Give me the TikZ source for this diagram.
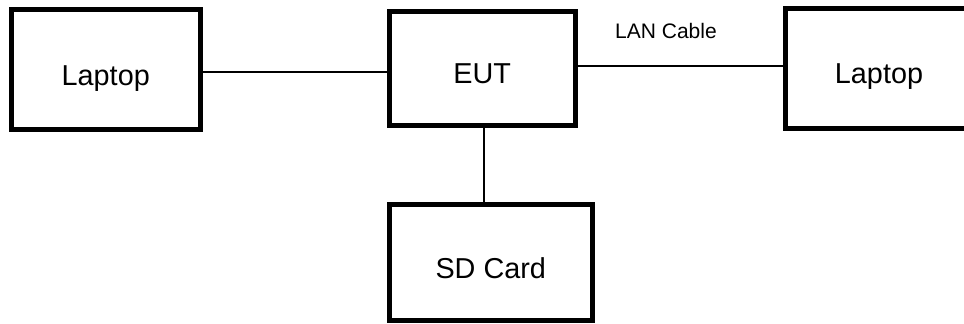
\documentclass[tikz,border=0pt]{standalone}
\usepackage{fontspec}
\setmainfont{Liberation Sans}
\begin{document}
\begin{tikzpicture}[x=0.5pt,y=-0.5pt,
  unit/.style={draw=black, line width=2.5pt, fill=white, inner sep=0pt,
    font=\fontsize{14.4}{17}\selectfont, text height=15.3pt, text depth=0pt},
  link/.style={draw=black, line width=0.55pt},
  tag/.style={font=\fontsize{10.5}{12}\selectfont, inner sep=0pt}]
  \clip (0,0) rectangle (964,324);
  \fill[white] (0,0) rectangle (964,324);

  % devices
  \node[unit, minimum width=94.25pt, minimum height=60pt] (lapL) at (105.75,70) {Laptop};
  \node[unit, minimum width=93.25pt, minimum height=57pt] (eut) at (482.25,68.5) {EUT};
  \node[unit, minimum width=93.5pt, minimum height=60pt] (lapR) at (879,68.5) {Laptop};
  \node[unit, minimum width=101.25pt, minimum height=58pt] (sd) at (490.75,263) {SD Card};

  % cabling
  \draw[link] (lapL.east |- 0,72) -- (eut.west |- 0,72);
  \draw[link] (eut.east |- 0,66) -- (lapR.west |- 0,66);
  \draw[link] (eut.south -| 484,0) -- (sd.north -| 484,0);
  \node[tag] (lan) at (666,31) {LAN Cable};
\end{tikzpicture}
\end{document}
